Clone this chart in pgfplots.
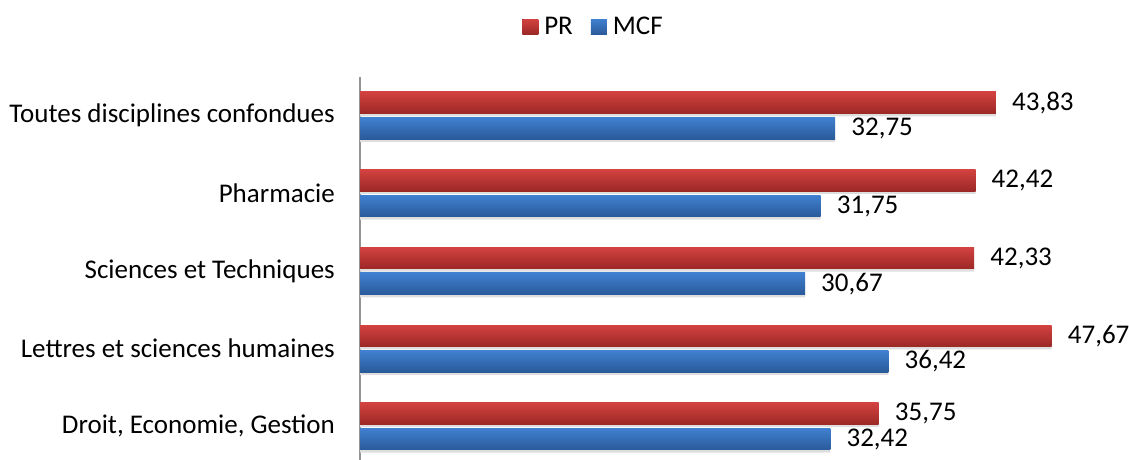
\documentclass[border=0pt]{standalone}
\usepackage{fontspec}
\setmainfont{Carlito}
\usepackage{pgfplots}
\pgfplotsset{compat=1.18}
\definecolor{redtop}{RGB}{210,66,64}
\definecolor{redbot}{RGB}{156,40,38}
\definecolor{bluetop}{RGB}{64,128,208}
\definecolor{bluebot}{RGB}{42,90,154}
\pgfplotsset{
  sqleg/.style={legend image code/.code={\fill[##1] (0pt,-7.5pt) rectangle (16pt,7.5pt); \path (22pt,0pt);}},
  prbar/.style={draw=none, top color=redtop, bottom color=redbot, bar shift=12.8pt, nodes near coords, sqleg},
  mcfbar/.style={draw=none, top color=bluetop, bottom color=bluebot, bar shift=-12.8pt, nodes near coords, sqleg},
}
\begin{document}
\begin{tikzpicture}
\useasboundingbox (0,0) rectangle (1129pt,459pt);
\begin{axis}[
  at={(360pt,-6.15pt)}, anchor=south west,
  scale only axis, width=725.5pt, height=388.5pt,
  xmin=0, xmax=50, ymin=-0.5, ymax=4.5,
  xbar, bar width=21.5pt,
  axis lines*=left,
  x axis line style={draw=none},
  y axis line style={draw=black!42, line width=1.5pt, -},
  xtick=\empty,
  ytick={0,1,2,3,4},
  yticklabels={{Droit, Economie, Gestion},{Lettres et sciences humaines},{Sciences et Techniques},{Pharmacie},{Toutes disciplines confondues}},
  major tick length=0pt,
  yticklabel style={font=\fontsize{27}{32}\selectfont, inner sep=0pt, xshift=-25pt},
  clip=false,
  legend columns=-1,
  legend style={draw=none, fill=none, at={(0.3205,1.1287)}, anchor=center,
    font=\fontsize{27}{32}\selectfont, nodes={inner sep=0pt},
    /tikz/every even column/.append style={column sep=18pt}},
  every node near coord/.append style={font=\fontsize{27}{32}\selectfont, anchor=west, inner sep=0pt, xshift=16pt},
  /pgf/number format/.cd, fixed, fixed zerofill, precision=2, use comma, assume math mode=true
]
% shadows
\addplot[forget plot, draw=none, fill=black!13, bar shift=10pt]
  coordinates {(35.75,0) (47.67,1) (42.33,2) (42.42,3) (43.83,4)};
\addplot[forget plot, draw=none, fill=black!13, bar shift=-15.6pt]
  coordinates {(32.42,0) (36.42,1) (30.67,2) (31.75,3) (32.75,4)};
% PR
\addplot[prbar] coordinates {(43.83,4)};
\addlegendentry{PR}
\addplot[prbar, forget plot] coordinates {(42.42,3)};
\addplot[prbar, forget plot] coordinates {(42.33,2)};
\addplot[prbar, forget plot] coordinates {(47.67,1)};
\addplot[prbar, forget plot] coordinates {(35.75,0)};
% MCF
\addplot[mcfbar] coordinates {(32.75,4)};
\addlegendentry{MCF}
\addplot[mcfbar, forget plot] coordinates {(31.75,3)};
\addplot[mcfbar, forget plot] coordinates {(30.67,2)};
\addplot[mcfbar, forget plot] coordinates {(36.42,1)};
\addplot[mcfbar, forget plot] coordinates {(32.42,0)};
\end{axis}
\end{tikzpicture}
\end{document}
